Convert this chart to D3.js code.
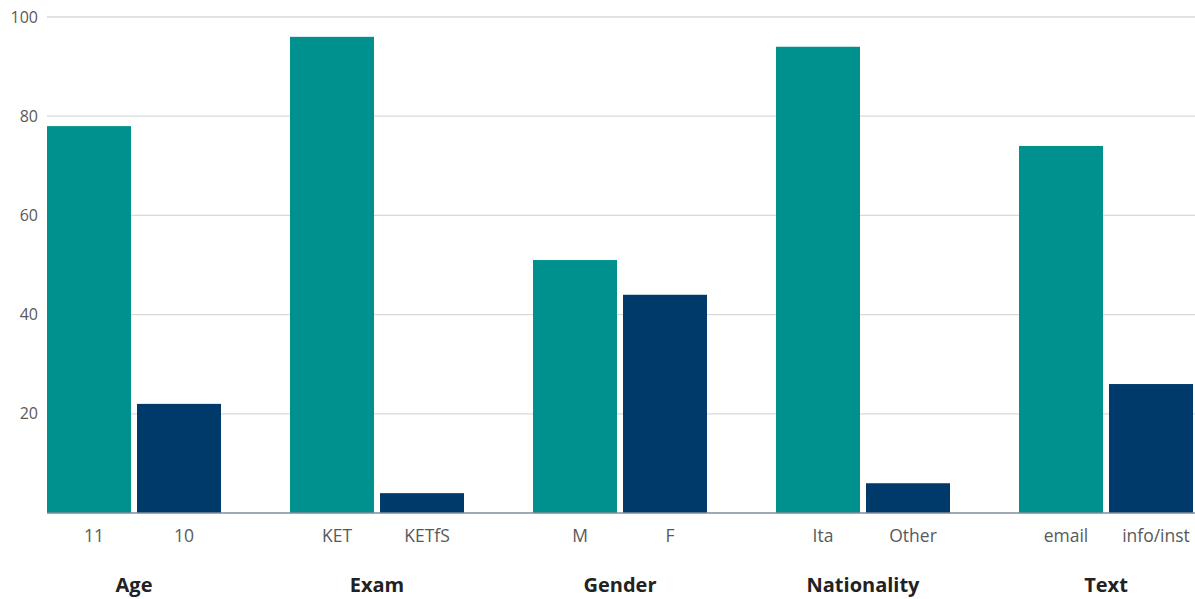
<!DOCTYPE html>
<html>
<head>
<meta charset="utf-8">
<script src="https://cdn.jsdelivr.net/npm/d3@7"></script>
<style>
  html, body { margin: 0; padding: 0; background: #fff; }
  svg { display: block; font-family: "Open Sans", sans-serif; }
</style>
</head>
<body>
<svg id="chart" width="1195" height="599"></svg>
<script>
const groups = ["Age", "Exam", "Gender", "Nationality", "Text"];
const firstLabels = ["11", "KET", "M", "Ita", "email"];
const secondLabels = ["10", "KETfS", "F", "Other", "info/inst"];
const firstValues = [78, 96, 51, 94, 74];
const secondValues = [22, 4, 44, 6, 26];
const yTicks = [20, 40, 60, 80, 100];

const colors = ["#00918f", "#003a6a"];

const rows = groups.map((g, i) => ({
  group: g,
  bars: [
    { idx: 0, label: firstLabels[i], value: firstValues[i] },
    { idx: 1, label: secondLabels[i], value: secondValues[i] }
  ]
}));

const svg = d3.select("#chart");

const x0 = d3.scaleBand().domain(groups).range([47, 47 + 243 * groups.length]).paddingInner(0).paddingOuter(0);
const x1 = d3.scaleBand().domain([0, 1]).range([0, 174]).paddingInner(6 / 90).paddingOuter(0);
const y = d3.scaleLinear().domain([0, 100]).range([513, 17]);

// gridlines
svg.append("g")
  .selectAll("line")
  .data(yTicks)
  .join("line")
  .attr("x1", 47).attr("x2", 1195)
  .attr("y1", d => y(d)).attr("y2", d => y(d))
  .attr("stroke", "#d9d9d9").attr("stroke-width", 1.3);

// y axis labels
const yAxis = d3.axisLeft(y).tickValues(yTicks).tickSize(0).tickPadding(9);
const ya = svg.append("g").attr("transform", "translate(47,0)").call(yAxis);
ya.select(".domain").remove();
ya.selectAll("text").attr("fill", "#595959").style("font-size", "16px").style("font-family", "'Open Sans', sans-serif");

// bars
const g = svg.append("g");
const grp = g.selectAll("g.grp").data(rows).join("g")
  .attr("class", "grp")
  .attr("transform", d => `translate(${x0(d.group)},0)`);

grp.selectAll("rect").data(d => d.bars).join("rect")
  .attr("x", d => x1(d.idx))
  .attr("width", x1.bandwidth())
  .attr("y", d => y(d.value))
  .attr("height", d => y(0) - y(d.value))
  .attr("fill", d => colors[d.idx]);

// category labels
grp.selectAll("text.cat").data(d => d.bars).join("text")
  .attr("class", "cat")
  .attr("x", d => x1(d.idx) + x1.bandwidth() / 2 + 5)
  .attr("y", 542)
  .attr("text-anchor", "middle")
  .attr("fill", "#595959")
  .style("font-size", "17.5px")
  .text(d => d.label);

// group labels
grp.append("text")
  .attr("x", 87)
  .attr("y", 592)
  .attr("text-anchor", "middle")
  .attr("fill", "#222")
  .style("font-size", "20px")
  .style("font-weight", "bold")
  .text(d => d.group);

// baseline
svg.append("line")
  .attr("x1", 47).attr("x2", 1195)
  .attr("y1", y(0)).attr("y2", y(0))
  .attr("stroke", "#7f8c99").attr("stroke-width", 1.3);
</script>
</body>
</html>
